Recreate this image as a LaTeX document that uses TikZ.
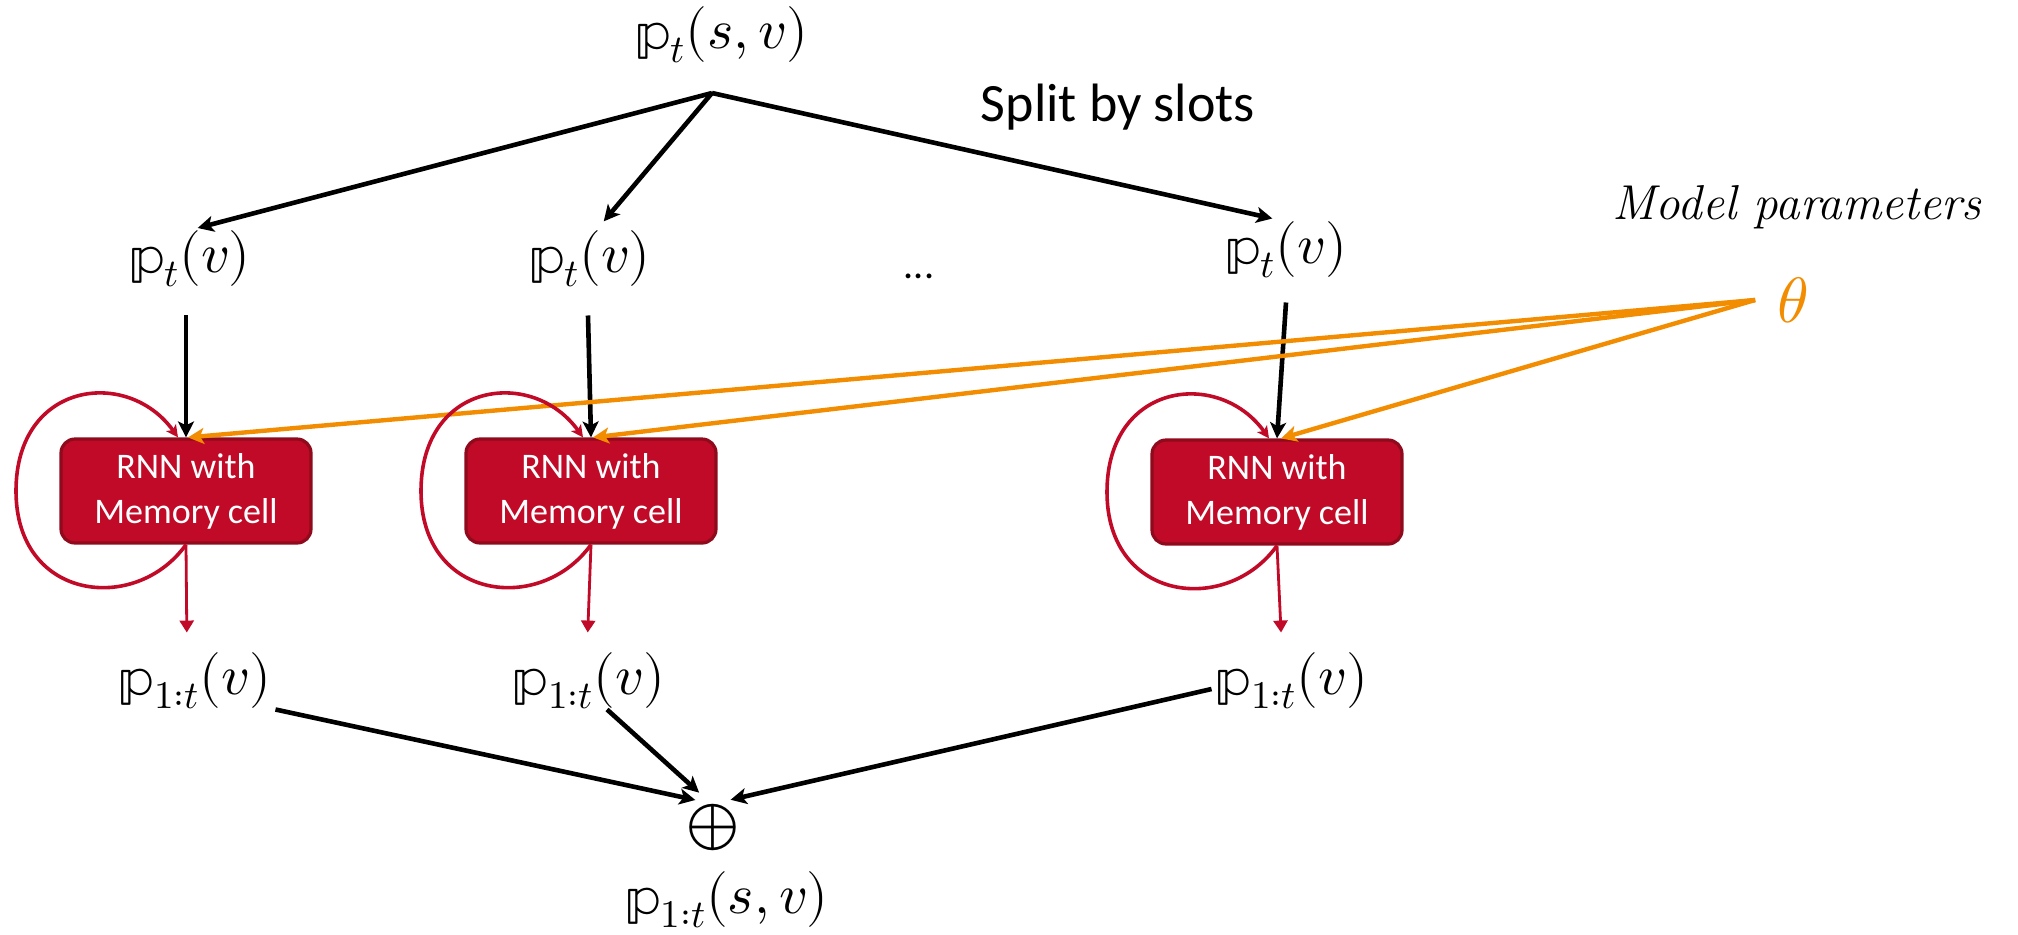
\documentclass[tikz,border=0pt]{standalone}
\usepackage{fontspec}
\usepackage{unicode-math}
\setmathfont{Latin Modern Math}
\newfontfamily\calibri{Carlito}
\usetikzlibrary{arrows.meta}
\definecolor{rnnred}{HTML}{C00A27}
\definecolor{rnnborder}{HTML}{8E0A1C}
\definecolor{thetaorange}{HTML}{F28C00}
\begin{document}
\begin{tikzpicture}[x=0.5pt,y=-0.5pt,
  mathlbl/.style={inner sep=0pt, font=\fontsize{28}{32}\selectfont},
  rnnbox/.style={draw=rnnborder, line width=1.6pt, fill=rnnred, rounded corners=7pt,
    minimum width=125pt, minimum height=52pt, text=white, align=center,
    font=\calibri\fontsize{18}{22.5}\selectfont, inner sep=0pt},
  blackarrow/.style={line width=2.3pt, -{Stealth[length=8pt,width=8pt,inset=2pt]}},
  orangearrow/.style={draw=thetaorange, line width=2.2pt, -{Stealth[length=8pt,width=8pt,inset=2pt]}},
  redarrow/.style={draw=rnnred, line width=1.4pt, -{Triangle[length=6pt,width=7pt]}},
  redloop/.style={draw=rnnred, line width=1.8pt, -{Stealth[length=6pt,width=6pt,inset=1.5pt]}}
]
\useasboundingbox (0,0) rectangle (2018,934);

% top
\node[mathlbl] (top) at (722,35) {$\symbb{p}_t(s,v)$};
\coordinate (split) at (712,93);
\node[font=\calibri\fontsize{27}{32}\selectfont, inner sep=0pt] (splittxt) at (1118,107) {Split by slots};

% second row
\node[mathlbl] (pl) at (190,259) {$\symbb{p}_t(v)$};
\node[mathlbl] (pm) at (590,259) {$\symbb{p}_t(v)$};
\node[mathlbl] (pr) at (1286,250) {$\symbb{p}_t(v)$};
\node[font=\calibri\fontsize{20}{24}\selectfont, inner sep=0pt] (dots) at (919,276) {...};

\node[font=\itshape\fontsize{24.5}{28}\selectfont, inner sep=0pt] (model) at (1797,207) {Model parameters};
\node[font=\fontsize{32}{36}\selectfont, text=thetaorange, inner sep=0pt] (theta) at (1793,300) {$\theta$};

% boxes
\node[rnnbox] (bl) at (186,491) {RNN with\\Memory cell};
\node[rnnbox] (bm) at (591,491) {RNN with\\Memory cell};
\node[rnnbox] (br) at (1277,492) {RNN with\\Memory cell};

% outputs
\node[mathlbl] (ql) at (195,681) {$\symbb{p}_{1:t}(v)$};
\node[mathlbl] (qm) at (589,681) {$\symbb{p}_{1:t}(v)$};
\node[mathlbl] (qr) at (1292,681) {$\symbb{p}_{1:t}(v)$};

\node[font=\fontsize{34}{38}\selectfont, inner sep=0pt] (oplus) at (713,827) {$\oplus$};
\node[mathlbl] (res) at (727,900) {$\symbb{p}_{1:t}(s,v)$};

% split arrows
\draw[blackarrow, shorten >=5pt] (split) -- ([xshift=-1pt]pl.north);
\draw[blackarrow, shorten >=6pt] (split) -- ([xshift=3pt]pm.north);
\draw[blackarrow, shorten >=7pt] (split) -- (pr.north);

% inputs to boxes
\draw[blackarrow] ([yshift=-14pt,xshift=-2pt]pl.south) -- (bl.north);
\draw[blackarrow] ([yshift=-14pt,xshift=-1pt]pm.south) -- (bm.north);
\draw[blackarrow] ([yshift=-12pt]pr.south) -- (br.north);

% theta arrows
\draw[orangearrow] ([xshift=-11pt]theta.west) -- ([xshift=1pt]bl.north);
\draw[orangearrow] ([xshift=-11pt]theta.west) -- ([xshift=1pt]bm.north);
\draw[orangearrow] ([xshift=-11pt]theta.west) -- ([xshift=2pt]br.north);

% recurrent loops
\foreach \b in {bl,bm,br}{
  \draw[redloop] (\b.south) .. controls +(-50,70) and +(0,110) .. ([xshift=-85pt,yshift=0pt]\b.center)
     .. controls +(0,-110) and +(-50,-70) .. ([xshift=-4pt]\b.north);
}

% outputs of boxes
\draw[redarrow, shorten >=10pt] (bl.south) -- ([xshift=-4pt]ql.north);
\draw[redarrow, shorten >=10pt] (bm.south) -- ([xshift=-1pt]qm.north);
\draw[redarrow, shorten >=10pt] (br.south) -- ([xshift=-5pt]qr.north);

% merge
\draw[blackarrow, shorten >=8pt] ([xshift=2pt]ql.south east) -- ([xshift=-1pt]oplus.north);
\draw[blackarrow, shorten >=8pt] ([xshift=9pt]qm.south) -- ([xshift=-1pt]oplus.north);
\draw[blackarrow, shorten >=8pt] ([yshift=-4pt,xshift=-2pt]qr.west) -- ([xshift=1pt]oplus.north);
\end{tikzpicture}
\end{document}
